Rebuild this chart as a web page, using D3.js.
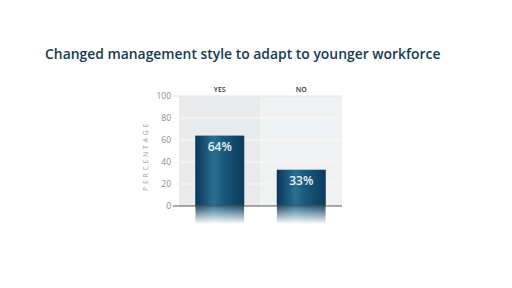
<!DOCTYPE html>
<html>
<head>
<meta charset="utf-8">
<script src="https://cdn.jsdelivr.net/npm/d3@7"></script>
<style>
  body { margin: 0; background: #fff; }
  svg { display: block; }
</style>
</head>
<body>
<div class="chart"></div>
<script>
const categories = ["YES", "NO"];
const values = [64, 33];
const valueLabels = ["64%", "33%"];
const yTicks = [0, 20, 40, 60, 80, 100];

const width = 512;
const height = 288;
const svg = d3.select('.chart')
    .append('svg')
    .attr('width', width)
    .attr('height', height)

const defs = svg.append("defs");

// horizontal shading of the bars
const barGrad = defs.append("linearGradient")
    .attr("id", "barGrad")
    .attr("x1", "0%").attr("x2", "100%").attr("y1", "0%").attr("y2", "0%");
barGrad.append("stop").attr("offset", "0%").attr("stop-color", "#0b3656");
barGrad.append("stop").attr("offset", "38%").attr("stop-color", "#2a6f92");
barGrad.append("stop").attr("offset", "55%").attr("stop-color", "#1a5c80");
barGrad.append("stop").attr("offset", "100%").attr("stop-color", "#0c3a5a");

// reflection fades downwards
const fadeGrad = defs.append("linearGradient")
    .attr("id", "fadeGrad")
    .attr("x1", "0%").attr("x2", "0%").attr("y1", "0%").attr("y2", "100%");
fadeGrad.append("stop").attr("offset", "0%").attr("stop-color", "#fff").attr("stop-opacity", 1);
fadeGrad.append("stop").attr("offset", "100%").attr("stop-color", "#fff").attr("stop-opacity", 0);
const mask = defs.append("mask").attr("id", "fadeMask")
    .attr("maskContentUnits", "objectBoundingBox");
mask.append("rect").attr("x", 0).attr("y", 0).attr("width", 1).attr("height", 1)
    .attr("fill", "url(#fadeGrad)");

// title
svg.append("text")
    .text("Changed management style to adapt to younger workforce")
    .attr("x", 45)
    .attr("y", 59)
    .attr("font-family", "'Open Sans', sans-serif")
    .attr("font-weight", 600)
    .attr("font-size", 13.9)
    .attr("fill", "#173a50");

const x = d3.scaleBand()
    .domain(categories)
    .range([179, 342])
    .paddingInner(0)
    .paddingOuter(0);

const y = d3.scaleLinear()
    .domain([0, 100])
    .range([206, 96]);

// panel backgrounds
svg.selectAll(".panel")
    .data(categories)
    .enter()
    .append("rect")
    .attr("class", "panel")
    .attr("x", d => x(d))
    .attr("y", y(100))
    .attr("width", x.bandwidth())
    .attr("height", y(0) - y(100))
    .attr("fill", (d, i) => i === 0 ? "#e9eaec" : "#f0f1f2");

// faint grid lines
svg.selectAll(".grid")
    .data(yTicks.filter(t => t > 0))
    .enter()
    .append("line")
    .attr("x1", 173)
    .attr("x2", 342)
    .attr("y1", d => y(d))
    .attr("y2", d => y(d))
    .attr("stroke", d => d === 100 ? "#e4e5e7" : "#f8f8f9")
    .attr("stroke-width", 1);

// y axis labels
const yAxis = d3.axisLeft(y)
    .tickValues(yTicks)
    .tickSize(0)
    .tickPadding(2);
const yG = svg.append("g")
    .attr("transform", "translate(173,0)")
    .call(yAxis);
yG.select(".domain").remove();
yG.selectAll("text")
    .attr("font-family", "'Open Sans', sans-serif")
    .attr("font-size", 8.5)
    .attr("fill", "#8c8c8c");

svg.append("text")
    .text("PERCENTAGE")
    .attr("transform", "translate(148,156) rotate(-90)")
    .attr("text-anchor", "middle")
    .attr("font-family", "'Open Sans', sans-serif")
    .attr("font-size", 6.8)
    .attr("letter-spacing", 2.8)
    .attr("fill", "#999");

// category labels
svg.selectAll(".cat")
    .data(categories)
    .enter()
    .append("text")
    .text(d => d)
    .attr("x", d => x(d) + x.bandwidth() / 2)
    .attr("y", 92)
    .attr("text-anchor", "middle")
    .attr("font-family", "'Open Sans', sans-serif")
    .attr("font-weight", 600)
    .attr("font-size", 7)
    .attr("fill", "#333");

const barW = 49;

// reflections
svg.selectAll(".refl")
    .data(values)
    .enter()
    .append("rect")
    .attr("class", "refl")
    .attr("x", (d, i) => x(categories[i]) + x.bandwidth() / 2 - barW / 2)
    .attr("y", y(0))
    .attr("width", barW)
    .attr("height", 18)
    .attr("fill", "url(#barGrad)")
    .attr("opacity", 0.9)
    .attr("mask", "url(#fadeMask)");

// bars
svg.selectAll(".bar")
    .data(values)
    .enter()
    .append("rect")
    .attr("class", "bar")
    .attr("x", (d, i) => x(categories[i]) + x.bandwidth() / 2 - barW / 2)
    .attr("y", d => y(d))
    .attr("width", barW)
    .attr("height", d => y(0) - y(d))
    .attr("fill", "url(#barGrad)");

// value labels
svg.selectAll(".val")
    .data(values)
    .enter()
    .append("text")
    .text((d, i) => valueLabels[i])
    .attr("x", (d, i) => x(categories[i]) + x.bandwidth() / 2)
    .attr("y", d => y(d) + 15)
    .attr("text-anchor", "middle")
    .attr("font-family", "'Open Sans', sans-serif")
    .attr("font-weight", 600)
    .attr("font-size", 12)
    .attr("fill", "#e8f1f6");

// zero line
svg.append("line")
    .attr("x1", 173)
    .attr("x2", 342)
    .attr("y1", y(0))
    .attr("y2", y(0))
    .attr("stroke", "#555")
    .attr("stroke-width", 1);
</script>
</body>
</html>
